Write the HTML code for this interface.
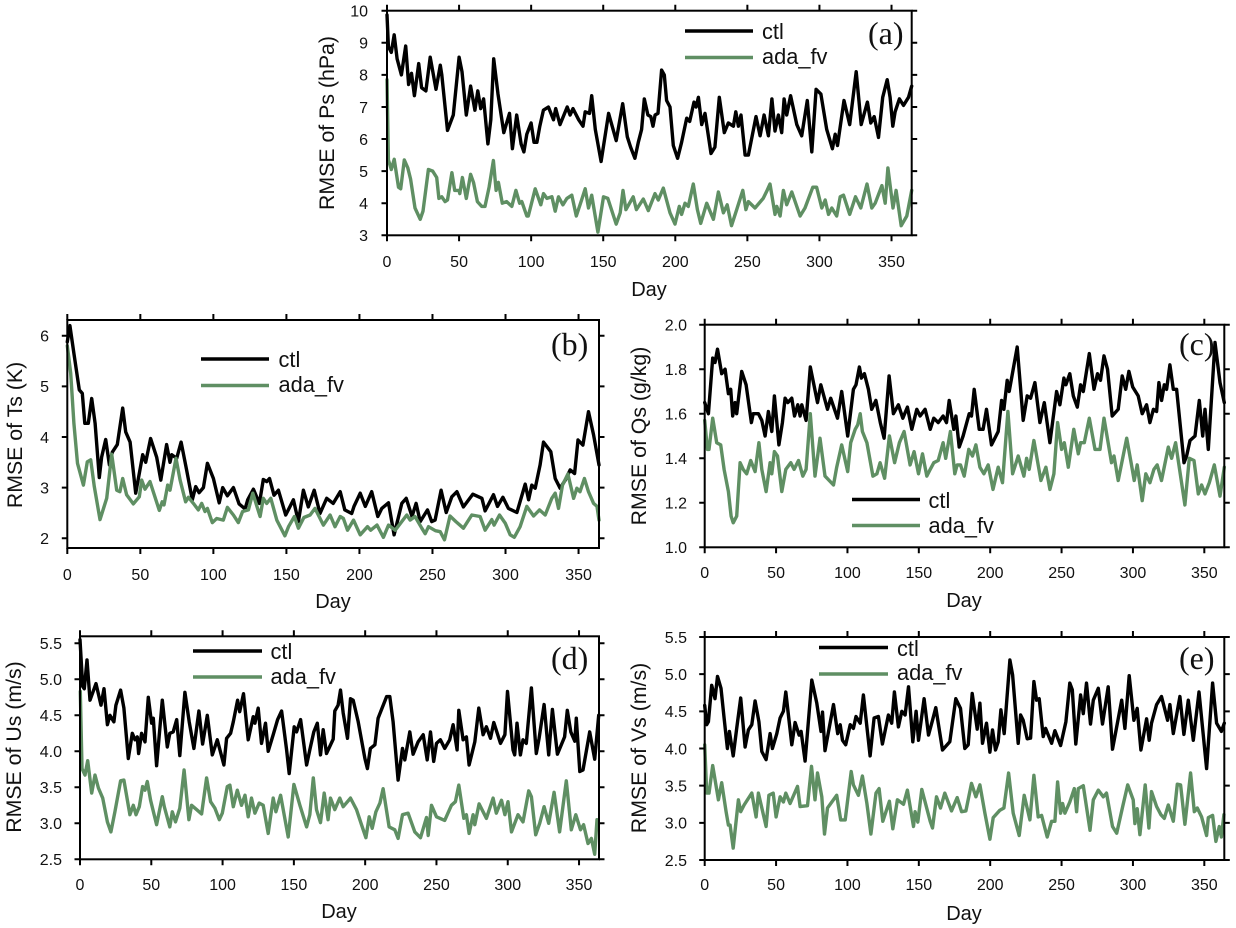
<!DOCTYPE html>
<html lang="en">
<head>
<meta charset="utf-8">
<title>RMSE time series</title>
<style>
html,body{margin:0;padding:0;background:#fff;}
svg{display:block;}
text{font-family:"Liberation Sans",sans-serif;fill:#111;}
.tick{font-size:16px;}
.axt{font-size:21.3px;}
.xt{font-size:20px;}
.leg{font-size:21.8px;}
.let{font-family:"Liberation Serif",serif;font-size:32px;}
</style>
</head>
<body>
<svg id="fig" xmlns="http://www.w3.org/2000/svg" width="1236" height="928" viewBox="0 0 1236 928">
<rect x="0" y="0" width="1236" height="928" fill="#fff"/>

<g id="panel-a">
<text class="axt" transform="translate(334,123) rotate(-90)" text-anchor="middle">RMSE of Ps (hPa)</text>
<text class="xt" x="649" y="296" text-anchor="middle">Day</text>
<line x1="685" x2="753" y1="31" y2="31" stroke="#000" stroke-width="3.4"/>
<line x1="685" x2="753" y1="57.5" y2="57.5" stroke="#5f8f63" stroke-width="3.4"/>
<text class="leg" x="762" y="39">ctl</text>
<text class="leg" x="762" y="64">ada_fv</text>
<text class="let" x="868" y="44">(a)</text>
</g>

<g id="panel-b">
<text class="axt" transform="translate(22,435) rotate(-90)" text-anchor="middle">RMSE of Ts (K)</text>
<text class="xt" x="333" y="608" text-anchor="middle">Day</text>
<line x1="201" x2="269" y1="359" y2="359" stroke="#000" stroke-width="3.4"/>
<line x1="201" x2="269" y1="385.5" y2="385.5" stroke="#5f8f63" stroke-width="3.4"/>
<text class="leg" x="278.5" y="367">ctl</text>
<text class="leg" x="278.5" y="392">ada_fv</text>
<text class="let" x="551" y="355">(b)</text>
</g>

<g id="panel-c">
<text class="axt" transform="translate(646,436) rotate(-90)" text-anchor="middle">RMSE of Qs (g/kg)</text>
<text class="xt" x="964" y="607" text-anchor="middle">Day</text>
<line x1="852" x2="920" y1="499.5" y2="499.5" stroke="#000" stroke-width="3.4"/>
<line x1="852" x2="920" y1="525.5" y2="525.5" stroke="#5f8f63" stroke-width="3.4"/>
<text class="leg" x="928.5" y="508">ctl</text>
<text class="leg" x="928.5" y="533">ada_fv</text>
<text class="let" x="1179" y="355">(c)</text>
</g>

<g id="panel-d">
<text class="axt" transform="translate(21,747) rotate(-90)" text-anchor="middle">RMSE of Us (m/s)</text>
<text class="xt" x="339" y="918" text-anchor="middle">Day</text>
<line x1="193" x2="262" y1="651" y2="651" stroke="#000" stroke-width="3.4"/>
<line x1="193" x2="262" y1="677" y2="677" stroke="#5f8f63" stroke-width="3.4"/>
<text class="leg" x="270.5" y="659">ctl</text>
<text class="leg" x="270.5" y="684">ada_fv</text>
<text class="let" x="551" y="669">(d)</text>
</g>

<g id="panel-e">
<text class="axt" transform="translate(646,748) rotate(-90)" text-anchor="middle">RMSE of Vs (m/s)</text>
<text class="xt" x="964" y="920" text-anchor="middle">Day</text>
<line x1="819" x2="888" y1="647.5" y2="647.5" stroke="#000" stroke-width="3.4"/>
<line x1="819" x2="888" y1="674" y2="674" stroke="#5f8f63" stroke-width="3.4"/>
<text class="leg" x="897" y="656">ctl</text>
<text class="leg" x="897" y="680">ada_fv</text>
<text class="let" x="1179" y="669">(e)</text>
</g>
</svg>

<script>
const xTicks = [0,50,100,150,200,250,300,350];
const yTicksA = [3,4,5,6,7,8,9,10];
const yTicksB = [2,3,4,5,6];
const yTicksC = [1.0,1.2,1.4,1.6,1.8,2.0];
const yTicksD = [2.5,3.0,3.5,4.0,4.5,5.0,5.5];
const yTicksE = [2.5,3.0,3.5,4.0,4.5,5.0,5.5];

const ctlA = [[0,9.87],[1,8.88],[3,8.7],[5,9.25],[7,8.5],[10,8.0],[13,8.9],[15,7.7],[17,8.05],[19,7.35],[22,8.35],[24,7.6],[27,7.5],[30,8.55],[34,7.55],[37,8.3],[38,8.0],[42,6.27],[46,6.75],[50,8.55],[52,8.1],[55,6.75],[58,7.65],[61,6.9],[63,7.5],[65,6.95],[67,7.25],[70,5.85],[72,6.6],[74,8.5],[77,7.4],[81,6.2],[85,6.8],[87,5.7],[90,6.75],[93,5.85],[95,5.6],[97,6.15],[100,6.5],[102,5.9],[104,5.9],[106,6.4],[108.5,6.9],[112,7.0],[115.5,6.6],[117,6.95],[120,6.45],[125,7.0],[127,6.75],[129,6.95],[133,6.6],[136,6.4],[137.5,6.85],[140.5,6.8],[142,7.35],[144.5,6.3],[148.5,5.3],[153.7,6.8],[159,5.95],[163.5,7.1],[166.7,6.07],[169,5.75],[172,5.4],[174.3,5.9],[176.6,6.3],[178.5,7.25],[181,6.75],[183,6.7],[184.5,6.4],[186,6.75],[188,6.8],[190.5,8.15],[192.4,8.0],[194,7.2],[196.3,7.0],[198.6,5.8],[201.6,5.4],[204.4,5.9],[206.7,6.4],[207.9,6.65],[210,6.55],[213,7.15],[214.4,7.0],[216,7.3],[218.3,6.45],[220.6,6.8],[224.8,5.55],[227.5,5.75],[230.5,7.3],[234,6.2],[236.8,6.5],[240.3,6.4],[242,6.85],[243.8,6.4],[245.6,6.75],[248.4,5.5],[250.7,5.5],[256,6.7],[258.8,6.1],[261.6,6.75],[264.6,6.1],[267,7.25],[269.2,6.25],[271.5,6.75],[273.8,6.2],[275.5,7.25],[277.3,6.75],[280,7.35],[284.3,6.45],[287.7,6.1],[291.6,7.2],[294.7,5.6],[297.7,7.55],[301,7.4],[305,6.3],[309,5.7],[310.9,6.15],[312.5,5.8],[317,7.2],[321,6.45],[325.5,8.1],[329,6.45],[333.3,7.15],[335.6,6.5],[338,6.7],[341,6.05],[343.9,7.3],[347,7.85],[349,7.3],[350.9,6.4],[352.5,6.85],[355.5,7.25],[358.3,7.05],[361.8,7.3],[364,7.65]];
const fvA = [[0,7.85],[1,5.35],[3,5.05],[5,5.37],[8,4.5],[9.5,4.45],[12,5.35],[14.4,5.1],[16.4,4.75],[19.4,3.85],[23,3.5],[25,3.75],[28.7,5.05],[31.7,5.0],[34.5,4.8],[36,4.15],[38,4.2],[40.3,4.05],[42,4.1],[45,4.95],[47,4.4],[50,4.4],[50.5,4.3],[52.3,4.8],[55,4.15],[58,4.9],[60,4.65],[62.7,4.05],[65.7,3.9],[68,3.9],[70.8,4.5],[73.8,5.33],[75.7,4.4],[77.3,4.65],[80,4.0],[83,4.05],[86.6,3.9],[89.4,4.4],[92,4.0],[93.5,4.05],[97,3.6],[98,3.6],[102.8,4.45],[106.7,3.95],[108.6,4.3],[110.9,4.15],[114.4,4.2],[116.7,3.75],[119,4.2],[122,3.95],[124.8,4.15],[128.2,4.25],[131.3,3.6],[135,4.1],[137.5,4.45],[139.8,3.85],[142,4.25],[146.3,3.1],[150.2,4.2],[153.2,4.15],[159,3.35],[161.8,3.7],[163.7,4.4],[165.7,3.8],[170.8,4.2],[173,3.8],[177.8,4.13],[181.3,3.77],[185.9,4.3],[188.2,4.1],[191.7,4.47],[196.3,3.7],[199.8,3.35],[202.8,3.9],[204.4,3.65],[206.7,4.0],[209,3.9],[212.5,4.6],[215.3,3.8],[217.6,3.37],[221.8,4.0],[226.4,3.5],[229.9,4.35],[233.4,3.7],[236,3.95],[239,3.3],[242.6,3.8],[246.8,4.4],[249,3.8],[250.7,4.05],[255.3,3.85],[261,4.15],[263.4,4.37],[265.7,4.6],[269.2,3.65],[270.4,3.9],[272.7,3.6],[275,4.4],[277.3,3.95],[280.8,4.35],[286.6,3.6],[290,3.85],[295.4,4.5],[298,4.5],[301.6,3.85],[304,4.1],[306.3,3.65],[308.6,3.85],[312,3.6],[314.4,4.2],[316.7,4.25],[321,3.65],[325,4.2],[328.7,3.85],[333,4.6],[336.3,3.85],[338.7,4.0],[343.3,4.55],[345.6,4.0],[347.5,5.1],[351,3.85],[353.2,4.4],[356.7,3.3],[360.6,3.6],[364,4.4]];

const ctlB = [[0,5.88],[1.8,6.2],[4.5,5.65],[8.2,4.93],[10.3,4.86],[12,4.27],[14.4,4.27],[16.7,4.76],[19,4.27],[21.9,3.2],[23.5,3.6],[26.3,3.95],[28.8,3.45],[30.8,3.7],[34.2,3.85],[37.9,4.57],[40,4.1],[43,3.9],[46.8,2.89],[51.6,3.65],[53.7,3.5],[57,3.97],[61.2,3.6],[64,3.15],[68,3.85],[70.3,3.5],[71.5,3.65],[74.9,3.58],[77.9,3.9],[81.7,3.35],[85.6,2.76],[87.9,3.02],[90.2,2.9],[93.2,3.0],[95.9,3.48],[100,3.18],[104,2.7],[106.4,3.0],[109.6,2.84],[113.7,3.0],[117.6,2.68],[121.7,2.58],[123.5,2.76],[127.4,2.97],[131.5,2.69],[134.2,3.16],[136.5,3.12],[138.4,3.18],[141.5,2.85],[144.5,2.95],[149.5,2.46],[152.5,2.63],[154.8,2.76],[158.2,2.33],[161.6,2.95],[165,2.62],[169,2.95],[173,2.49],[177.6,2.79],[182,2.69],[186.8,2.92],[190,2.56],[194.7,2.49],[196.3,2.63],[200.5,2.89],[204,2.63],[208.4,2.92],[212.6,2.43],[215.3,2.59],[219.9,2.7],[223.7,2.07],[229,2.69],[232,2.79],[236,2.43],[238.8,2.69],[241.6,2.33],[246.6,2.56],[249.5,2.33],[251.8,2.36],[255.9,2.95],[259.4,2.51],[263.2,2.82],[266.7,2.92],[271.2,2.62],[277.6,2.87],[283.8,2.79],[286,2.54],[291.8,2.86],[294.5,2.63],[298.2,2.81],[302,2.59],[307.8,2.51],[313.5,3.07],[315.8,2.76],[318,3.05],[320.3,2.99],[323.7,3.45],[326,3.9],[331,3.71],[334,3.18],[337.4,2.99],[340.9,3.15],[344.3,3.35],[347.3,3.28],[349.6,3.94],[353,3.84],[356.8,4.5],[360.3,4.04],[364,3.45]];
const fvB = [[0,5.8],[2.3,5.26],[4.5,4.27],[7,3.48],[11,3.05],[13.7,3.51],[16,3.55],[18.5,3.02],[22.4,2.37],[27,2.79],[30.4,3.66],[33.8,2.95],[36,2.92],[37.9,3.18],[40.6,2.86],[45.2,2.68],[49.3,2.82],[50.9,3.15],[53.2,2.97],[56.6,3.12],[63,2.55],[65,2.72],[66.2,2.66],[68.7,3.05],[70.3,2.95],[74.4,3.58],[77.2,3.15],[81,2.72],[82.9,2.81],[86.3,2.69],[89.7,2.56],[92,2.69],[94.3,2.53],[95.9,2.59],[99.3,2.31],[102.3,2.39],[106.8,2.36],[109.6,2.61],[113.7,2.46],[117.1,2.31],[120,2.53],[124,2.56],[127,2.89],[132,2.43],[134.2,2.79],[136.5,2.69],[139.3,2.79],[143.4,2.36],[149,2.05],[151.4,2.23],[155.5,2.43],[158.2,2.2],[162,2.41],[166.2,2.46],[169.6,2.59],[175.3,2.26],[179.9,2.46],[183.3,2.23],[186.8,2.43],[189,2.39],[191.8,2.16],[195.9,2.36],[200.5,2.07],[205.5,2.23],[207.7,2.16],[212,2.26],[216.4,2.02],[219.9,2.26],[224.5,2.16],[232.4,2.46],[234.7,2.36],[238,2.43],[242.7,2.2],[245,2.09],[247.3,2.23],[252,2.15],[255.3,2.13],[258.2,1.97],[262,2.44],[266,2.33],[271.2,2.2],[276.9,2.46],[282.6,2.43],[286,2.16],[290.6,2.37],[292.2,2.26],[295.9,2.46],[299.8,2.3],[303.2,2.07],[306,2.02],[310,2.23],[314.6,2.63],[319.2,2.44],[323.3,2.56],[327.2,2.46],[331.7,2.79],[334,2.89],[336.3,2.59],[339,3.05],[342.7,3.27],[346.6,2.79],[348.9,2.99],[351,2.92],[354,3.18],[356.8,2.92],[360.3,2.69],[362.6,2.63],[364,2.36]];

const ctlC = [[0,1.65],[2.6,1.6],[5.6,1.85],[7.2,1.83],[9,1.89],[11.9,1.78],[14.3,1.8],[16.6,1.69],[18.2,1.71],[19.6,1.59],[21.3,1.65],[22.4,1.6],[25.9,1.79],[29,1.73],[32.7,1.56],[34,1.6],[37.6,1.6],[40,1.57],[42.3,1.5],[44.6,1.61],[47,1.52],[48.8,1.68],[52,1.46],[54.4,1.56],[56.3,1.67],[58.2,1.65],[61,1.67],[62.9,1.59],[65.2,1.64],[66.8,1.59],[68,1.64],[71,1.57],[74,1.81],[79,1.65],[81.3,1.73],[86,1.62],[88.3,1.67],[93,1.58],[96,1.7],[100.2,1.5],[104.2,1.71],[106,1.73],[108.4,1.81],[109.8,1.76],[111.9,1.78],[114.7,1.71],[117,1.62],[119.9,1.66],[123,1.56],[125.7,1.49],[129.2,1.77],[132.2,1.6],[135.7,1.64],[138.8,1.58],[142,1.63],[145.1,1.53],[148.6,1.62],[150.9,1.59],[154.4,1.62],[158,1.53],[160.5,1.58],[163.6,1.56],[167,1.59],[169.4,1.56],[171.3,1.66],[174.5,1.53],[176,1.59],[178.3,1.45],[181,1.5],[185.3,1.6],[186.9,1.59],[188.8,1.71],[192.3,1.53],[195,1.53],[197.4,1.62],[200.9,1.46],[205.6,1.52],[208,1.66],[209.6,1.62],[211.9,1.75],[213.3,1.7],[216.1,1.8],[218.9,1.9],[223.1,1.57],[225.9,1.68],[228.3,1.67],[231.3,1.74],[234.8,1.56],[237.9,1.65],[241.8,1.47],[246.5,1.7],[248.8,1.64],[251.6,1.76],[253,1.73],[255.8,1.78],[258.2,1.68],[261,1.63],[263.3,1.73],[265.2,1.7],[269.4,1.87],[272.7,1.71],[275.2,1.78],[277.3,1.75],[279.7,1.86],[282.2,1.8],[285.5,1.59],[289.7,1.62],[292.5,1.77],[294.9,1.71],[297.2,1.79],[299.8,1.72],[303.7,1.68],[306.5,1.6],[309.6,1.64],[311.9,1.56],[314.3,1.62],[316.6,1.61],[318.2,1.74],[320.1,1.66],[322,1.73],[323.6,1.71],[325.9,1.82],[328.3,1.71],[330.6,1.71],[335.8,1.38],[337.6,1.41],[340,1.48],[343.5,1.5],[346.5,1.66],[348.9,1.5],[350.5,1.62],[352.8,1.44],[357.5,1.92],[361,1.74],[364,1.65]];
const fvC = [[0,1.57],[1.9,1.44],[3,1.44],[5.6,1.58],[8.4,1.47],[11.2,1.46],[13.6,1.35],[16.6,1.25],[18.5,1.14],[20,1.11],[22.4,1.14],[24.8,1.38],[27,1.35],[29.4,1.33],[32.2,1.39],[35.3,1.34],[38,1.47],[40,1.35],[43,1.25],[45.8,1.38],[47,1.33],[48.8,1.43],[51,1.41],[54,1.25],[56.8,1.35],[60.3,1.38],[62.6,1.35],[65.7,1.39],[68.7,1.32],[71,1.35],[74,1.6],[77.3,1.32],[80.8,1.49],[84.3,1.32],[90.2,1.28],[92.5,1.36],[96,1.46],[100.2,1.34],[102.3,1.47],[105.4,1.53],[107.2,1.55],[108.9,1.6],[110.5,1.52],[113.6,1.47],[117.8,1.32],[120.6,1.33],[122.9,1.38],[126,1.31],[129.4,1.5],[133,1.38],[136.4,1.47],[139.7,1.52],[143.9,1.37],[146.7,1.43],[149.8,1.33],[152.6,1.42],[155.6,1.32],[158,1.35],[160.5,1.38],[163.6,1.39],[167,1.47],[168.8,1.4],[172.1,1.52],[175.2,1.33],[176.8,1.37],[179.2,1.37],[181.8,1.32],[185,1.44],[187.6,1.41],[190,1.46],[192.8,1.36],[195.6,1.33],[198.6,1.37],[202,1.26],[205.6,1.36],[208.6,1.29],[212.4,1.61],[215.7,1.33],[219.6,1.41],[223.6,1.32],[225.5,1.4],[227.3,1.35],[230.6,1.48],[235.5,1.3],[239,1.36],[241.8,1.26],[244.6,1.33],[247.2,1.56],[250,1.44],[251.9,1.47],[254.7,1.36],[258.6,1.53],[261.7,1.42],[263.3,1.47],[265.9,1.47],[269.4,1.58],[273.4,1.44],[276.9,1.44],[279.7,1.58],[285,1.38],[286.7,1.41],[289.7,1.3],[295.6,1.49],[299,1.37],[300.9,1.3],[303,1.37],[306.5,1.21],[309,1.33],[311.9,1.29],[314.7,1.35],[317,1.37],[320,1.3],[324.8,1.45],[327.1,1.4],[329.9,1.47],[336.4,1.19],[339.5,1.4],[342.8,1.39],[345.8,1.24],[348.1,1.28],[350.5,1.24],[353.5,1.29],[357,1.37],[361,1.23],[364,1.36]];

const ctlD = [[0,5.55],[1.9,4.9],[3,4.87],[4.9,5.27],[7,4.71],[11.2,4.94],[14.7,4.64],[16.8,4.87],[19.2,4.37],[21,4.5],[23.8,4.41],[25.2,4.64],[28.5,4.85],[30.8,4.6],[33.9,3.9],[36.7,4.25],[38.6,4.16],[40.2,4.2],[41.1,3.97],[43.2,4.25],[45.6,4.13],[47.9,4.75],[50.2,4.39],[51.4,4.46],[53.7,3.8],[57.7,4.71],[61.2,4.06],[63,4.25],[65.4,4.27],[67.8,4.44],[70,3.94],[73.6,4.82],[76.6,4.41],[79.9,4.04],[83.4,4.56],[86,4.1],[89.3,4.5],[92.8,3.95],[96.3,4.16],[100.9,3.81],[102.8,4.18],[105.6,4.25],[107.5,4.41],[110.5,4.71],[112,4.55],[114.7,4.8],[118,4.16],[121.5,4.48],[122.7,4.39],[125,4.6],[127.3,4.11],[130.1,4.39],[132,4],[135.5,4.23],[138.6,4.44],[141.4,4.56],[144.9,4.02],[146.7,3.69],[150.2,4.34],[151.9,4.27],[154.7,4.44],[158.9,3.81],[161.2,4.02],[164,4.27],[166.4,4.39],[168.7,3.95],[170.6,4.3],[172.9,3.97],[177.6,4.17],[178.7,4.56],[181,4.64],[182.7,4.85],[184.6,4.53],[187.6,4.18],[189.7,4.73],[191.6,4.71],[195.1,4.41],[199.8,3.9],[201.6,3.76],[203.7,4.04],[206.8,4.09],[209.1,4.46],[215,4.76],[217.3,4.76],[219.6,4.41],[223.1,3.6],[226.2,4.04],[227.8,3.88],[231.3,4.27],[233.6,3.96],[237.1,4.13],[240.7,4.23],[243.5,3.88],[245.8,4.27],[248.1,3.86],[250,4.11],[252.8,4.16],[255.8,4.04],[259.3,4.16],[261.7,4.37],[264.5,4.02],[265.7,4.57],[268.7,4.16],[271,4.2],[272.9,3.81],[276.9,4.13],[279.7,4.6],[282.7,4.23],[285,4.34],[287.9,4.18],[290.2,4.4],[294.9,4.11],[298,4.23],[299.8,4.83],[303.7,4.02],[304.9,3.95],[306.5,4.39],[308.9,3.95],[310.7,4.16],[313,4.11],[316.6,4.88],[320,3.97],[322,4.18],[325.5,4.65],[328.7,3.95],[331.3,4.58],[334.8,3.96],[339.9,4.2],[341.8,4.57],[344.2,4.27],[347,4.14],[348.1,4.46],[350.5,3.72],[352.8,3.74],[357.5,4.27],[361,3.89],[363.8,4.5]];
const fvD = [[0.2,4.83],[1.4,3.76],[3.5,3.67],[5.4,3.87],[8.2,3.42],[10.5,3.67],[12.9,3.49],[15.9,3.35],[19.2,3.02],[21.7,2.88],[24.5,3.16],[28.5,3.59],[30.8,3.6],[35,3.12],[37.4,3.25],[39.3,3.12],[41.6,3.23],[43.9,3.51],[45.6,3.46],[47.2,3.58],[49.5,3.32],[53.7,2.98],[57.7,3.37],[59.1,3.23],[63,2.95],[64.7,3.16],[67,3.02],[70,3.21],[73,3.74],[76.4,3.05],[78.3,3.25],[81.8,3.19],[85.3,3.13],[88.8,3.63],[91.6,3.3],[94.6,3.21],[97.7,3.05],[99.8,3.14],[103.3,3.51],[105.1,3.53],[107.5,3.23],[110.3,3.46],[113.3,3.25],[115.7,3.39],[118,3.09],[120.3,3.35],[122.7,3.14],[125.7,3.28],[128.5,3.25],[132,2.86],[135.5,3.35],[137.4,3.16],[140.7,3.39],[146,2.81],[150,3.54],[154.2,3.25],[158.9,2.95],[161.2,3.12],[163.6,3.63],[165.9,3.19],[168.7,3.01],[171.3,3.42],[174,3.05],[175.7,3.35],[178.7,3.19],[182.2,3.35],[184.6,3.23],[189.7,3.35],[193.9,3.19],[197.4,2.98],[200.5,2.8],[202.8,3.09],[204.9,2.93],[207.5,3.16],[210.3,3.28],[212.6,3.48],[216.8,2.95],[220.8,2.91],[223.1,2.79],[226.2,3.12],[230.1,3.14],[234.8,2.88],[238.8,2.8],[243,3.08],[244.2,2.83],[246.5,3.25],[250,3.09],[255.8,3.04],[260.5,3.25],[263.3,3.3],[265.7,3.53],[269.2,3.07],[271,3.12],[272.9,2.86],[275.7,3.12],[276.9,2.98],[279.9,3.27],[285,3.07],[289.7,3.35],[292,3.14],[295.6,3.32],[298,3.12],[300.2,3.3],[302.6,2.88],[307.2,3.12],[310.7,3.02],[314.7,3.45],[316.6,3.37],[319.6,2.84],[322.4,3],[325.5,3.23],[328.7,3],[332.5,3.43],[336.4,2.88],[341.1,3.59],[344.6,2.91],[347.7,3.12],[351,2.91],[353.2,2.98],[356.3,2.72],[358.7,2.79],[361,2.57],[362.6,3.05]];

const ctlE = [[0,4.58],[1.4,4.32],[2.6,4.36],[4.9,4.85],[7.2,4.67],[9,4.97],[11.4,4.81],[13.6,4.41],[15.9,4],[17.3,4.23],[20,3.9],[22.4,4.27],[25.2,4.68],[28.3,4.02],[30.6,4.25],[33,4.32],[35.3,4.64],[38,4.36],[40,3.96],[43,3.85],[45.8,4.2],[47.4,4],[50.5,4.2],[52.8,4.41],[55.1,4.5],[56.8,4.76],[61,4.05],[63.3,4.35],[66.1,4.18],[67.5,4.23],[70.3,3.83],[75,4.92],[78.5,4.61],[81.5,4.23],[82.5,4.49],[84.3,3.97],[90.2,4.59],[93.2,4.2],[94.9,4.32],[96.5,4.11],[98.8,4.05],[101.9,4.32],[104.2,4.27],[106,4.43],[108.9,4.34],[111.2,4.72],[114,4.23],[115.9,3.9],[118.7,4.41],[121.7,4.43],[124.5,4.06],[128.7,4.45],[131,4.34],[132.9,4.76],[135.7,4.29],[138.1,4.5],[140.4,4.45],[142.8,4.83],[145.8,4.09],[148.1,4.5],[149.8,4.11],[153.7,4.67],[156.8,4.18],[159.6,4.38],[161.9,4.55],[166.6,3.98],[171.7,4.09],[175.9,4.67],[179.2,4.54],[182.2,4],[184.6,4.05],[187.4,4.74],[190.9,4.26],[192.8,4.61],[194.6,4.07],[197.4,4.34],[199.8,3.95],[201.6,4.25],[203.7,3.98],[205.6,4.09],[207.5,4.52],[209.8,4.2],[213.8,5.19],[215.7,4.99],[219.6,4.07],[221.3,4.45],[223.1,4.38],[225.9,4.13],[228.3,4.14],[230.6,4.9],[232.5,4.65],[234.3,4.67],[237.1,4.16],[238.8,4.27],[243,4.07],[245.3,4.24],[249.3,4.04],[253,4.36],[255.8,4.88],[257.5,4.79],[260,4.06],[263.3,4.72],[265.2,4.47],[267.5,4.88],[270.3,4.33],[272.2,4.65],[275.7,4.81],[278.7,4.33],[282.7,4.83],[285.7,3.99],[292.1,4.65],[294.4,4.27],[297.4,4.98],[300.7,4.38],[303,4.54],[305.6,3.98],[309.6,4.4],[311.4,4.11],[313,4.34],[316.6,4.59],[320,4.7],[324.3,4.38],[325.9,4.59],[328.3,4.2],[332.9,4.7],[335.7,4.19],[338.8,4.65],[342.3,4.11],[346.3,4.76],[351.6,3.73],[355.8,4.88],[358.6,4.34],[362,4.23],[364,4.34]];
const fvE = [[0,4.05],[1.4,3.4],[3,3.4],[5.6,3.77],[9.6,3.31],[11.9,3.54],[15,3.15],[16.6,2.97],[17.8,2.97],[20,2.66],[23.6,3.31],[25.2,3.15],[27.6,3.24],[33,3.4],[36,3.08],[37.6,3.4],[43,2.95],[45,3.37],[48,3.4],[50,3.08],[52.8,3.35],[55.1,3.28],[56.8,3.4],[59.8,3.26],[65,3.49],[66.8,3.22],[72,3.23],[74.8,3.76],[77.3,3.31],[79,3.67],[82,3.35],[83.9,2.85],[86,3.2],[92.5,3.37],[95.3,3.04],[98.4,3.04],[102.6,3.69],[104.2,3.51],[107.7,3.37],[110.5,3.63],[113.6,3.26],[116.4,2.85],[120,3.4],[122.2,3.46],[124.8,3.02],[129.4,3.29],[131.8,2.92],[135,3.31],[139.3,3.25],[142,3.44],[146.3,2.95],[147.4,3.15],[149.3,3.01],[152.1,3.45],[158,3.02],[159.6,2.93],[162.4,3.35],[165.2,3.2],[168.2,3.4],[172.9,3.16],[176.9,3.34],[180,3.15],[183,3.16],[186.9,3.53],[190,3.35],[192.8,3.51],[196.3,3.13],[199.8,2.78],[202.1,3.07],[206.8,3.17],[209.6,3.2],[212.9,3.67],[216.1,3.13],[220.3,2.83],[223.8,3.37],[227.8,3.04],[230.6,3.64],[233.6,3.08],[236,3.1],[239.9,2.81],[243,3.02],[245.3,3.02],[247.2,3.55],[249.3,3.13],[250.7,3.26],[252.3,3.13],[255.8,3.28],[258.9,3.46],[260.5,3.15],[261.7,3.46],[265.2,3.5],[269.9,2.9],[272.2,3.31],[275.7,3.44],[279.2,3.35],[281.5,3.4],[285.7,2.95],[288.6,2.86],[292.8,3.22],[296.3,3.51],[300.2,3.31],[301.4,2.99],[303,3.19],[304.9,2.84],[308.6,3.51],[311.2,2.93],[313,3.42],[316.6,3.22],[319.6,3.11],[322,3.06],[324.8,3.24],[328.3,3.02],[331.1,3.52],[333.4,3.51],[336.4,2.98],[340.4,3.67],[343,3.15],[345.1,3.2],[348.1,3.08],[351.6,2.83],[352.8,3.07],[355.8,3.1],[358.1,2.75],[360.5,2.95],[362,2.81],[363.7,3.11]];

const SVGNS = 'http://www.w3.org/2000/svg';
const INK = '#000';
const GREEN = '#5f8f63';
const DAY_MAX = 364;

function make(tag, attrs) {
  const n = document.createElementNS(SVGNS, tag);
  for (const k in attrs) n.setAttribute(k, attrs[k]);
  return n;
}

function drawPanel(id, box, yLow, yHigh, yLowPx, yHighPx, yTicks, digits, labelEnd, xBase, ctl, fv) {
  const root = document.getElementById('panel-' + id);
  const xScale = function (d) { return box.l + (box.r - box.l) * d / DAY_MAX; };
  const yScale = function (v) { return yLowPx + (yHighPx - yLowPx) * (v - yLow) / (yHigh - yLow); };
  const linePath = function (pts) {
    return pts.map(function (p, i) {
      return (i ? 'L' : 'M') + xScale(p[0]).toFixed(1) + ' ' + yScale(p[1]).toFixed(1);
    }).join('');
  };

  const lineCtl = make('path', {d: linePath(ctl), fill: 'none', stroke: INK, 'stroke-width': 3.4, 'stroke-linejoin': 'round', 'stroke-linecap': 'round'});
  
  
  root.appendChild(lineCtl);

  const lineFv = make('path', {d: linePath(fv), fill: 'none', stroke: GREEN, 'stroke-width': 3.4, 'stroke-linejoin': 'round', 'stroke-linecap': 'round'});
  
  
  root.appendChild(lineFv);

  const frame = make('rect', {x: box.l, y: box.t, width: box.r - box.l, height: box.b - box.t, fill: 'none', stroke: INK, 'stroke-width': 2});
  
  
  root.appendChild(frame);

  xTicks.forEach(function (d) {
    const x = xScale(d);
    const marks = make('path', {d: 'M' + x + ' ' + box.t + 'v-6M' + x + ' ' + box.b + 'v6', stroke: INK, 'stroke-width': 2, fill: 'none'});
    
    
    root.appendChild(marks);
    const label = make('text', {x: x, y: xBase, 'text-anchor': 'middle', class: 'tick'});
    
    
    label.textContent = String(d);
    root.appendChild(label);
  });

  yTicks.forEach(function (v) {
    const y = yScale(v);
    const marks = make('path', {d: 'M' + (box.l - 5.5) + ' ' + y + 'h5.5M' + box.r + ' ' + y + 'h5.5', stroke: INK, 'stroke-width': 2, fill: 'none'});
    
    
    root.appendChild(marks);
    const label = make('text', {x: labelEnd, y: y + 5.8, 'text-anchor': 'end', class: 'tick'});
    
    
    label.textContent = v.toFixed(digits);
    root.appendChild(label);
  });
}

drawPanel('a', {l: 387, r: 911.7, t: 10.7, b: 235.3}, 3, 10, 235.3, 10.7, yTicksA, 0, 368, 267, ctlA, fvA);
drawPanel('b', {l: 67.3, r: 599, t: 320, b: 548}, 2, 6, 538.3, 335.7, yTicksB, 0, 49, 580, ctlB, fvB);
drawPanel('c', {l: 704.7, r: 1224.3, t: 324.7, b: 547.3}, 1, 2, 547.3, 324.7, yTicksC, 1, 687, 578, ctlC, fvC);
drawPanel('d', {l: 80, r: 599, t: 636.3, b: 859.3}, 2.5, 5.5, 859.3, 643.3, yTicksD, 1, 62, 890, ctlD, fvD);
drawPanel('e', {l: 704.7, r: 1224.3, t: 637, b: 860}, 2.5, 5.5, 860, 637, yTicksE, 1, 687, 890, ctlE, fvE);
</script>
</body>
</html>
